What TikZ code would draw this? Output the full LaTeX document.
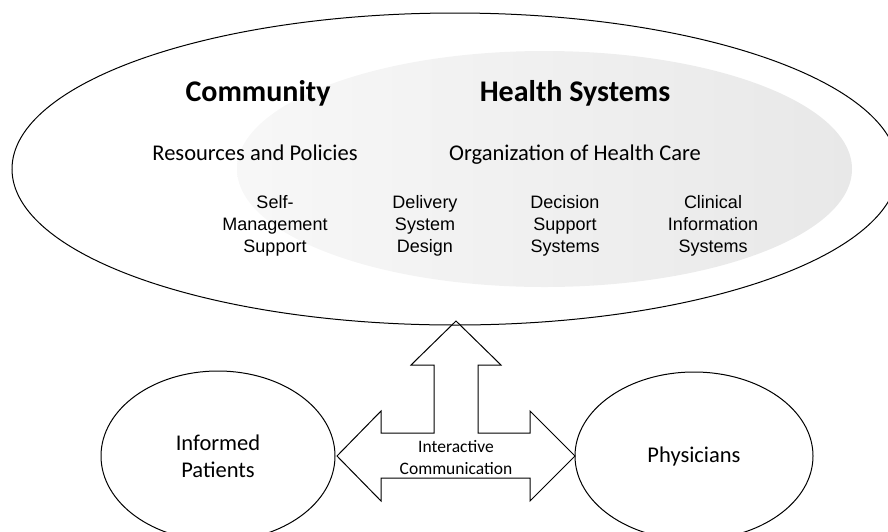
\documentclass[tikz,border=0pt]{standalone}
\usepackage{fontspec}
\setmainfont{Carlito}
\newfontfamily\arialf{Liberation Sans}
\usetikzlibrary{shapes.geometric}
\begin{document}
\begin{tikzpicture}[x=1pt,y=-1pt,
  outline/.style={draw=black, line width=1pt},
  ell/.style={ellipse, inner sep=0pt, outer sep=0pt, outline},
  titletext/.style={font=\fontsize{30}{36}\selectfont\bfseries, anchor=base},
  subtext/.style={font=\fontsize{22.5}{27}\selectfont, anchor=base},
  comptext/.style={font=\arialf\fontsize{18}{22}\selectfont, align=center, inner sep=0pt},
  actor/.style={ell, font=\fontsize{22.5}{27}\selectfont, align=center},
  arrowtext/.style={font=\fontsize{17.5}{22}\selectfont, align=center, inner sep=0pt}
]
\useasboundingbox (0,0) rectangle (888,531);
\clip (0,0) rectangle (888,531);

% inner shaded ellipse (health systems)
\node[ellipse, inner sep=0pt, minimum width=615pt, minimum height=236pt,
      left color=gray!6, right color=gray!18, draw=none] (hs) at (544.5,169) {};
% outer ellipse (community)
\node[ell, minimum width=886pt, minimum height=312pt] (community) at (455,169) {};

\node[titletext] (comm) at (258,101) {Community};
\node[titletext] (hst) at (575,101.5) {Health Systems};
\node[subtext] (res) at (255,160) {Resources and Policies};
\node[subtext] (org) at (575,160) {Organization of Health Care};

\node[comptext] (sms) at (275,225.5) {Self-\\Management\\Support};
\node[comptext] (dsd) at (425,225.5) {Delivery\\System\\Design};
\node[comptext] (dss) at (565,225.5) {Decision\\Support\\Systems};
\node[comptext] (cis) at (713,225.5) {Clinical\\Information\\Systems};

% bottom actors
\node[actor, minimum width=234pt, minimum height=170pt] (patients) at (218,456) {Informed\\Patients};
\node[actor, minimum width=238pt, minimum height=168pt] (physicians) at (694,456) {Physicians};

% block arrow
\coordinate (tipU) at (456,321);
\draw[outline, line join=miter]
  (tipU) -- (501,365) -- (478,365) -- (478,433) -- (530,433) -- (530,411)
  -- (575,456) -- (530,501) -- (530,478) -- (381,478) -- (381,501)
  -- (337,456) -- (381,411) -- (381,433) -- (434,433) -- (434,365)
  -- (411,365) -- cycle;
\node[arrowtext] (ic) at (456,457.2) {Interactive\\Communication};
\end{tikzpicture}
\end{document}
